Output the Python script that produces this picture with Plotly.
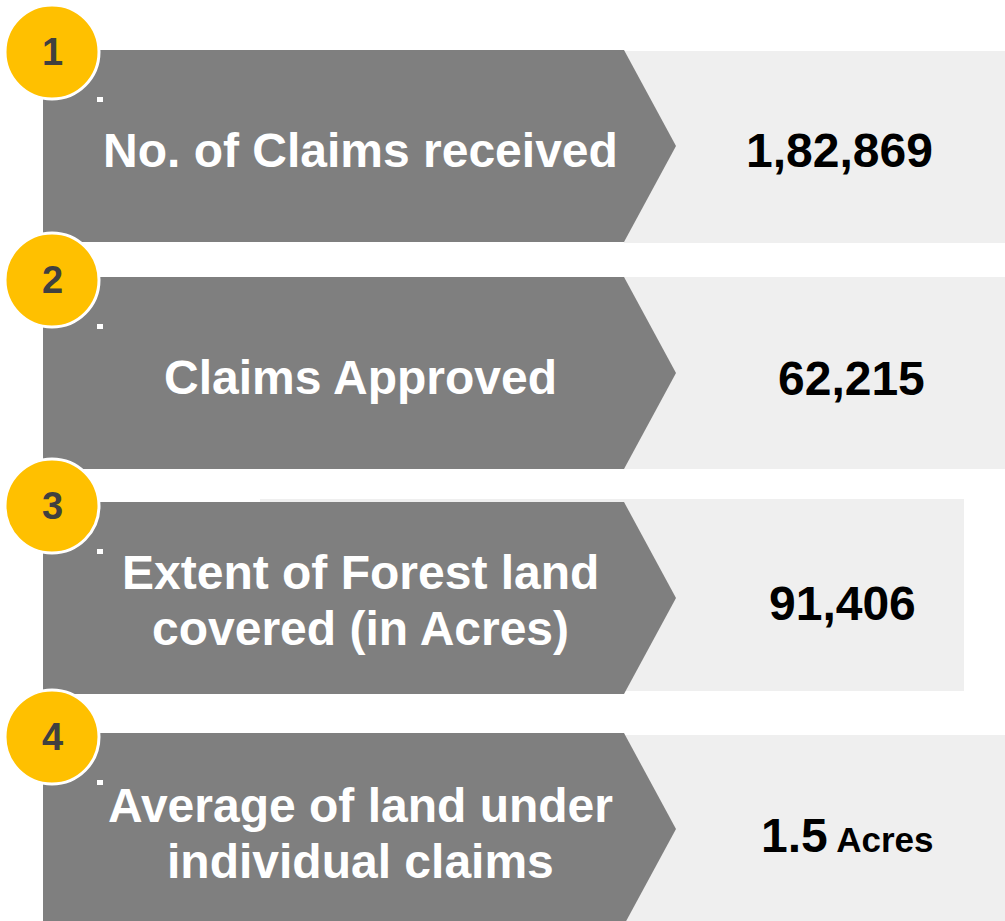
import plotly.graph_objects as go

# content
steps = ["1", "2", "3", "4"]
labels = [
    "No. of Claims received",
    "Claims Approved",
    "Extent of Forest land<br>covered (in Acres)",
    "Average of land under<br>individual claims",
]
values = ["1,82,869", "62,215", "91,406", "1.5"]
units = ["", "", "", "Acres"]

# layout (pixel space)
W, H = 1005, 921
ARROW_TOP = [50, 277, 502, 733]
ARROW_H = 192
ARROW_X0, ARROW_BODY, ARROW_TIP = 43, 624, 676
BOX = [(624, 1005, 51, 243), (624, 1005, 277, 469), (260, 964, 499, 691), (624, 1005, 735, 930)]
LABEL_Y = [150, 377, 600, 833]
VALUE_Y = [150, 378, 603, 835]
VALUE_X = [839, 851, 842, 847]
CIRCLE_Y = [52, 280, 506, 737]
LINE_GAP = 56

DARK = "#7F7F7F"
LIGHT = "#EFEFEF"
GOLD = "#FFC000"
FONT = "Liberation Sans, Arial, sans-serif"

fig = go.Figure()
shapes = []
annotations = []

for i in range(len(steps)):
    x0, x1, y0, y1 = BOX[i]
    shapes.append(dict(type="rect", x0=x0, x1=x1, y0=y0, y1=y1,
                       fillcolor=LIGHT, line=dict(width=0), layer="below"))

    top = ARROW_TOP[i]
    bot = top + ARROW_H
    mid = (top + bot) / 2
    path = (f"M{ARROW_X0},{top} L{ARROW_BODY},{top} L{ARROW_TIP},{mid} "
            f"L{ARROW_BODY},{bot} L{ARROW_X0},{bot} Z")
    shapes.append(dict(type="path", path=path, fillcolor=DARK,
                       line=dict(width=0), layer="below"))

    # little white dot marker
    shapes.append(dict(type="rect", x0=97, x1=103, y0=top + 47, y1=top + 52,
                       fillcolor="white", line=dict(width=0)))

    cy = CIRCLE_Y[i]
    shapes.append(dict(type="circle", x0=52 - 47, x1=52 + 47, y0=cy - 47, y1=cy + 47,
                       fillcolor=GOLD, line=dict(color="white", width=3)))
    annotations.append(dict(x=52, y=cy, text=f"<b>{steps[i]}</b>", showarrow=False,
                            font=dict(family=FONT, size=38, color="#404040"),
                            xanchor="center", yanchor="middle"))

    lines = labels[i].split("<br>")
    n = len(lines)
    for k, line in enumerate(lines):
        ly = LABEL_Y[i] + (k - (n - 1) / 2) * LINE_GAP
        annotations.append(dict(x=360, y=ly, text=f"<b>{line}</b>", showarrow=False,
                                font=dict(family=FONT, size=48, color="white"),
                                xanchor="center", yanchor="middle"))

    vtext = f"<b>{values[i]}</b>"
    if units[i]:
        vtext += f"<b><span style='font-size:35px'> {units[i]}</span></b>"
    annotations.append(dict(x=VALUE_X[i], y=VALUE_Y[i], text=vtext, showarrow=False,
                            font=dict(family=FONT, size=48, color="black"),
                            xanchor="center", yanchor="middle"))

fig.update_layout(
    width=W, height=H,
    margin=dict(l=0, r=0, t=0, b=0),
    paper_bgcolor="white", plot_bgcolor="white",
    xaxis=dict(range=[0, W], visible=False, fixedrange=True),
    yaxis=dict(range=[H, 0], visible=False, fixedrange=True),
    shapes=shapes, annotations=annotations,
    showlegend=False,
)

fig.write_html("out.html", config={"displayModeBar": False},
               post_script="document.body.style.margin='0';")
